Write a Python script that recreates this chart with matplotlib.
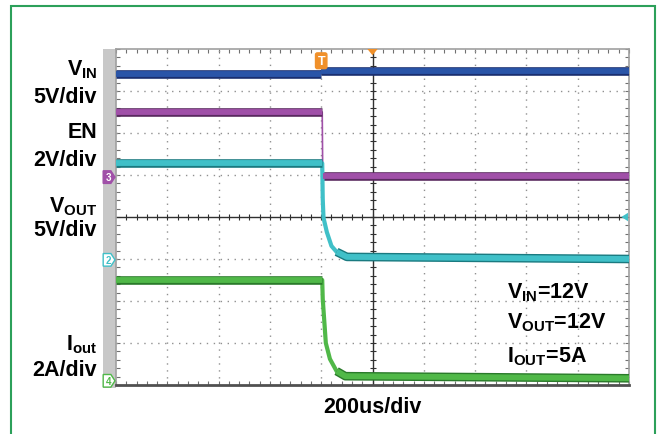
import numpy as np
import matplotlib.pyplot as plt
from matplotlib.patches import Polygon, Rectangle

plt.rcParams['font.family'] = ['Liberation Sans', 'DejaVu Sans']
plt.rcParams['font.weight'] = 'bold'
plt.rcParams['mathtext.fontset'] = 'custom'
plt.rcParams['mathtext.rm'] = 'Liberation Sans:bold'
plt.rcParams['mathtext.bf'] = 'Liberation Sans:bold'
plt.rcParams['mathtext.it'] = 'Liberation Sans:bold'

# traces, time in divisions (200us/div), level in divisions from bottom of screen
vin_t = [0.0, 4.0, 4.0, 10.0]
vin_v = [7.41, 7.41, 7.47, 7.47]

en_t = [0.0, 4.02, 4.03, 10.0]
en_v = [6.50, 6.50, 4.98, 4.98]

vout_t = [0.0, 4.02, 4.03, 4.045, 4.11, 4.20, 4.30, 4.50, 10.0]
vout_v = [5.28, 5.28, 4.43, 3.98, 3.64, 3.31, 3.17, 3.05, 3.00]

iout_t = [0.0, 4.02, 4.03, 4.09, 4.17, 4.30, 4.47, 10.0]
iout_v = [2.50, 2.50, 2.05, 1.00, 0.62, 0.33, 0.21, 0.16]

# channel ground markers: (label, level, colour, filled)
markers = [("3", 4.95, "#a050a8", True),
           ("2", 2.98, "#40c0c8", False),
           ("4", 0.10, "#50b848", False)]

left_labels = [(r"$\mathbf{V_{IN}}$", 75), ("5V/div", 103),
               ("EN", 138), ("2V/div", 166),
               (r"$\mathbf{V_{OUT}}$", 212), ("5V/div", 236),
               (r"$\mathbf{I_{out}}$", 350), ("2A/div", 376)]
cond_labels = [(r"$\mathbf{V_{IN}}$=12V", 298), (r"$\mathbf{V_{OUT}}$=12V", 328),
               (r"$\mathbf{I_{OUT}}$=5A", 362)]

W, H = 660, 435
fig = plt.figure(figsize=(6.6, 4.35), dpi=100)
fig.patch.set_facecolor("white")

# green frame
fig.add_artist(Rectangle((11 / W, -0.05), (655 - 11) / W, 1 - 7 / H + 0.05,
                         transform=fig.transFigure, fill=False,
                         edgecolor="#2ca05a", lw=1.5, zorder=-2))
# gray strip left of screen
fig.add_artist(Rectangle((103 / W, 1 - 389 / H), 13 / W, 339 / H,
                         transform=fig.transFigure, facecolor="#c8c8c8",
                         edgecolor="none", zorder=-1))

ax = fig.add_axes([116 / W, 1 - 386 / H, 513 / W, 336 / H])
ax.set_xlim(0, 10)
ax.set_ylim(0, 8)
for s in ax.spines.values():
    s.set_color("#a0a0a0")
    s.set_linewidth(1.2)
ax.spines["bottom"].set_color("#505050")
ax.spines["bottom"].set_linewidth(2)
ax.set_xticks(np.arange(0, 10.01, 0.2))
ax.set_yticks(np.arange(0, 8.01, 0.2))
ax.tick_params(direction="in", length=3, color="#707070", width=0.8,
               top=True, right=True, labelbottom=False, labelleft=False)

# dotted grid
for x in range(1, 10):
    if x != 5:
        ax.axvline(x, color="#909090", lw=1, ls=(0, (1, 4)))
for y in range(1, 8):
    if y != 4:
        ax.axhline(y, color="#909090", lw=1, ls=(0, (1, 4)))
ax.axvline(5, color="#303030", lw=1)
ax.axhline(4, color="#303030", lw=1)
mt = np.arange(0.2, 10, 0.2)
ax.plot(mt, np.full_like(mt, 4), ls="none", marker="|", ms=5, color="#303030", mew=0.8)
mt = np.arange(0.2, 8, 0.2)
ax.plot(np.full_like(mt, 5), mt, ls="none", marker="_", ms=5, color="#303030", mew=0.8)

# (t, v, colour, edge colour, width of the transition, index where flat tail starts)
traces = [(vin_t, vin_v, "#2a55a8", "#1a2f70", 1.2, 2),
          (en_t, en_v, "#a050a8", "#5a2a60", 1.2, 2),
          (vout_t, vout_v, "#40c0c8", "#1a7a80", 3.0, 6),
          (iout_t, iout_v, "#50b848", "#2a7a2a", 3.0, 5)]
for t, v, c, ec, tw, k in traces:
    ax.plot(t, v, color=c, lw=tw, zorder=3, solid_capstyle="round")
    for seg in (slice(0, 2), slice(k, None)):
        ax.plot(t[seg], v[seg], color=ec, lw=6.2, solid_capstyle="butt", zorder=3)
        ax.plot(t[seg], v[seg], color=c, lw=4.2, solid_capstyle="butt", zorder=4)

for lab, lev, c, filled in markers:
    pts = [(-0.25, lev - 0.15), (-0.1, lev - 0.15), (-0.02, lev),
           (-0.1, lev + 0.15), (-0.25, lev + 0.15)]
    ax.add_patch(Polygon(pts, closed=True, clip_on=False, zorder=6,
                         facecolor=c if filled else "white", edgecolor=c, lw=1))
    ax.text(-0.15, lev, lab, color="white" if filled else c, fontsize=7,
            ha="center", va="center", clip_on=False, zorder=7)

# trigger markers
ax.text(4.0, 7.72, "T", color="white", fontsize=9, ha="center", va="center",
        bbox=dict(boxstyle="round,pad=0.15", fc="#f0902a", ec="#f0902a"), zorder=7)
ax.add_patch(Polygon([(4.9, 8.0), (5.1, 8.0), (5.0, 7.85)], closed=True,
                     clip_on=False, facecolor="#f0902a", edgecolor="none", zorder=7))
ax.add_patch(Polygon([(9.85, 4.0), (9.98, 4.1), (9.98, 3.9)], closed=True,
                     clip_on=False, facecolor="#40c0c8", edgecolor="none", zorder=7))

for txt, yb in left_labels:
    fig.text(97 / W, 1 - yb / H, txt, ha="right", va="baseline", fontsize=15.5,
             fontweight="bold")
for txt, yb in cond_labels:
    fig.text(507 / W, 1 - yb / H, txt, ha="left", va="baseline", fontsize=15.5,
             fontweight="bold")
fig.text(372 / W, 1 - 413 / H, "200us/div", ha="center", va="baseline",
         fontsize=15.5, fontweight="bold")

fig.savefig("out.png", dpi=100)
